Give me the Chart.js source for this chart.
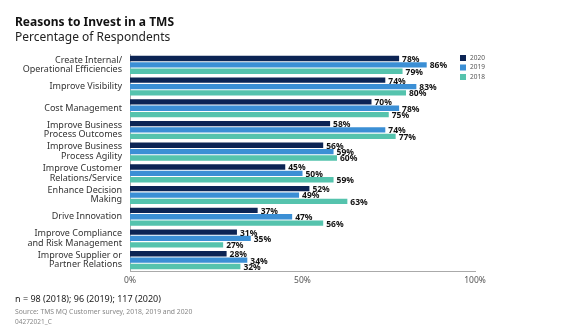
<!DOCTYPE html>
<html>
<head>
<meta charset="utf-8">
<script src="https://cdn.jsdelivr.net/npm/chart.js@4.4.1/dist/chart.umd.min.js"></script>
<style>
  html, body { margin: 0; padding: 0; background: #fff; }
  #wrap { position: relative; width: 562px; height: 333px; font-family: "Noto Sans", sans-serif; }
  #myChart { position: absolute; left: 0; top: 0; }
  .txt { position: absolute; left: 15px; white-space: nowrap; }
  #title { top: 13px; font-size: 12px; font-weight: 700; color: #111; }
  #subtitle { top: 28px; font-size: 12px; color: #222; }
  #n { top: 292px; font-size: 9px; color: #222; }
  #src { top: 307px; font-size: 6.8px; color: #888; }
  #code { top: 317px; font-size: 6.5px; color: #888; }
</style>
</head>
<body>
<div id="wrap">
  <canvas id="myChart" width="562" height="333"></canvas>
  <div class="txt" id="title">Reasons to Invest in a TMS</div>
  <div class="txt" id="subtitle">Percentage of Respondents</div>
  <div class="txt" id="n">n = 98 (2018); 96 (2019); 117 (2020)</div>
  <div class="txt" id="src">Source: TMS MQ Customer survey, 2018, 2019 and 2020</div>
  <div class="txt" id="code">04272021_C</div>
</div>
<script>
var categories = [
    ['Create Internal/', 'Operational Efficiencies'],
    'Improve Visibility',
    'Cost Management',
    ['Improve Business', 'Process Outcomes'],
    ['Improve Business', 'Process Agility'],
    ['Improve Customer', 'Relations/Service'],
    ['Enhance Decision', 'Making'],
    'Drive Innovation',
    ['Improve Compliance', 'and Risk Management'],
    ['Improve Supplier or', 'Partner Relations']
];
var years = ['2020', '2019', '2018'];
var values2020 = [78, 74, 70, 58, 56, 45, 52, 37, 31, 28];
var values2019 = [86, 83, 78, 74, 59, 50, 49, 47, 35, 34];
var values2018 = [79, 80, 75, 77, 60, 59, 63, 56, 27, 32];
var xTicks = [0, 50, 100];

var colors = ['#0c2454', '#3b8fd5', '#55c3ad'];
var FONT = '"Noto Sans", sans-serif';

// value labels at the end of every bar
var barLabels = {
    id: 'barLabels',
    afterDatasetsDraw: function (chart) {
        var ctx = chart.ctx;
        ctx.save();
        ctx.font = 'bold 8.5px ' + FONT;
        ctx.fillStyle = '#111';
        ctx.textBaseline = 'middle';
        ctx.textAlign = 'left';
        chart.data.datasets.forEach(function (ds, i) {
            chart.getDatasetMeta(i).data.forEach(function (bar, j) {
                ctx.fillText(ds.data[j] + '%', bar.x + 3, bar.y + 1);
            });
        });
        ctx.restore();
    }
};

// small legend in the top right corner
var cornerLegend = {
    id: 'cornerLegend',
    afterDraw: function (chart) {
        var ctx = chart.ctx;
        ctx.save();
        ctx.font = '6.5px ' + FONT;
        ctx.textBaseline = 'middle';
        chart.data.datasets.forEach(function (ds, i) {
            var y = 58 + i * 9.5;
            ctx.fillStyle = ds.backgroundColor;
            ctx.fillRect(460, y - 3, 6, 6);
            ctx.fillStyle = '#555';
            ctx.fillText(ds.label, 470, y);
        });
        ctx.restore();
    }
};

var chartEl = document.getElementById('myChart').getContext('2d');
var TMSchart = new Chart(chartEl, {
    type: 'bar',
    data: {
        labels: categories,
        datasets: [
            { label: years[0], data: values2020, backgroundColor: colors[0] },
            { label: years[1], data: values2019, backgroundColor: colors[1] },
            { label: years[2], data: values2018, backgroundColor: colors[2] }
        ]
    },
    options: {
        indexAxis: 'y',
        responsive: false,
        animation: false,
        devicePixelRatio: 1,
        categoryPercentage: 0.88,
        barPercentage: 0.84,
        layout: { padding: { left: 0, right: 87, top: 54, bottom: 0 } },
        plugins: {
            legend: { display: false },
            tooltip: { enabled: false }
        },
        scales: {
            x: {
                min: 0,
                max: 100,
                afterBuildTicks: function (scale) {
                    scale.ticks = xTicks.map(function (v) { return { value: v }; });
                },
                afterFit: function (scale) { scale.height = 62; },
                grid: { display: false, drawTicks: false },
                border: { display: true, color: '#aaa', width: 1 },
                ticks: {
                    padding: 4,
                    color: '#555',
                    font: { family: FONT, size: 8.5 },
                    callback: function (v) { return v + '%'; }
                }
            },
            y: {
                afterFit: function (scale) { scale.width = 130; },
                grid: { display: false, drawTicks: false },
                border: { display: true, color: '#aaa', width: 1 },
                ticks: {
                    autoSkip: false,
                    padding: 8,
                    color: '#333',
                    font: { family: FONT, size: 9, lineHeight: 1.05 }
                }
            }
        }
    },
    plugins: [barLabels, cornerLegend]
});
</script>
</body>
</html>
